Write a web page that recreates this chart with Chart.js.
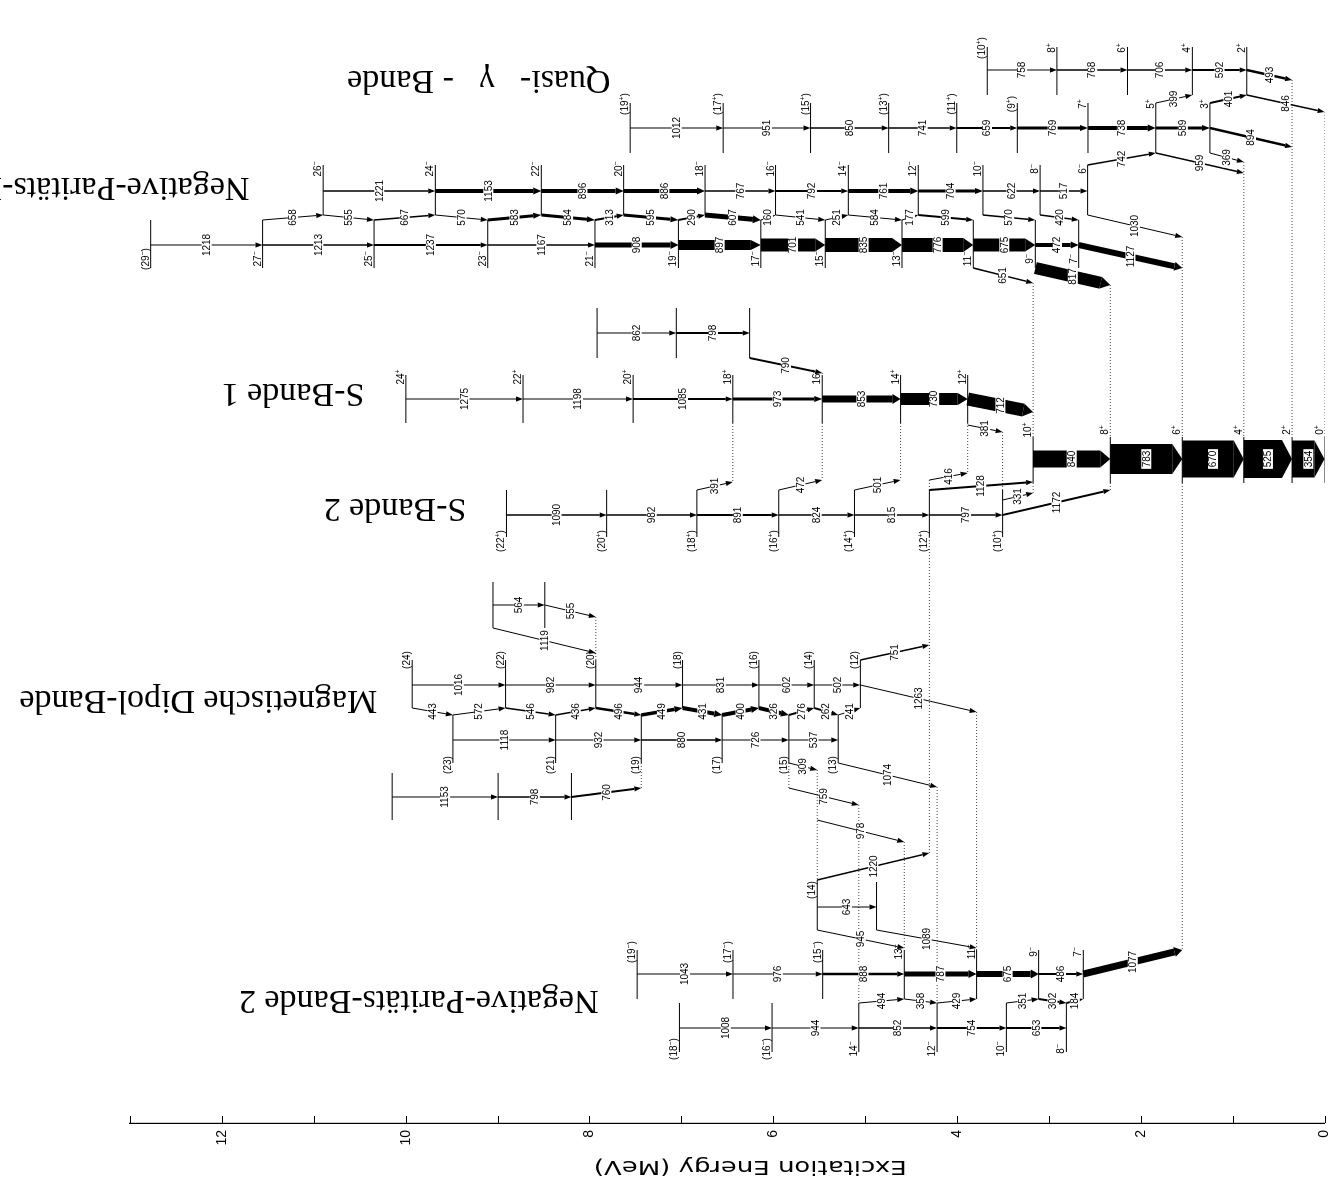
<!DOCTYPE html>
<html>
<head>
<meta charset="utf-8">
<title>Niveauschema</title>
<script src="https://cdn.jsdelivr.net/npm/chart.js@4.4.1/dist/chart.umd.min.js"></script>
<style>
  html, body { margin: 0; padding: 0; background: #fff; overflow: hidden; }
  #wrap { position: relative; width: 1340px; height: 1191px; overflow: hidden; background: #fff; }
  /* das Schema wird stehend gezeichnet und dann um 90 Grad gedreht */
  #scheme { position: absolute; left: 0; top: 0; transform-origin: 0 0; transform: translate(0px, 1191px) rotate(-90deg); }
</style>
</head>
<body>
<div id="wrap"><canvas id="scheme" width="1191" height="1340"></canvas></div>
<script>
// ---------- Daten: Spins (von unten nach oben), Intraband-Gammas in keV, Intensitaeten ----------
// Grundzustandsband
const gsSpins = ['0+', '2+', '4+', '6+', '8+', '10+'];
const gsGammas = [354, 525, 670, 783, 840];
const gsInt = [37, 38, 37, 30, 17];

// S-Bande 1
const s1Spins = ['12+', '14+', '16+', '18+', '20+', '22+', '24+'];
const s1Gammas = [730, 853, 973, 1085, 1198, 1275];
const s1Int = [12, 7, 3, 2, 1, 1];

// Seitenband ueber S-Bande 1
const sbSpins = ['_a', '_b', '_c'];
const sbGammas = [798, 862];
const sbInt = [2, 1];

// S-Bande 2
const s2Spins = ['(10+)', '(12+)', '(14+)', '(16+)', '(18+)', '(20+)', '(22+)'];
const s2Gammas = [797, 815, 824, 891, 982, 1090];
const s2Int = [1.5, 1.5, 1.5, 2, 1.5, 1.5];

// Quasi-gamma-Bande
const geSpins = ['2+', '4+', '6+', '8+', '(10+)'];
const geGammas = [592, 706, 768, 758];
const geInt = [2, 1.5, 1.5, 1];
const goSpins = ['3+', '5+', '7+', '(9+)', '(11+)', '(13+)', '(15+)', '(17+)', '(19+)'];
const goGammas = [589, 738, 769, 659, 741, 850, 951, 1012];
const goInt = [3, 4, 3, 2, 1.5, 1.5, 1, 1];

// Negative-Paritaets-Bande 1
const neSpins = ['6-', '8-', '10-', '12-', '14-', '16-', '18-', '20-', '22-', '24-', '26-'];
const neGammas = [517, 622, 704, 761, 792, 767, 886, 896, 1153, 1221];
const neInt = [1.5, 1.5, 3, 4, 2, 1.5, 4, 4, 4, 1.5];
const noSpins = ['7-', '9-', '11-', '13-', '15-', '17-', '19-', '21-', '23-', '25-', '27-', '(29-)'];
const noGammas = [472, 675, 776, 835, 701, 897, 908, 1167, 1237, 1213, 1218];
const noInt = [4, 13, 14, 14, 13, 10, 5, 1.5, 2, 1.5, 1];

// Negative-Paritaets-Bande 2
const n2oSpins = ['7-', '9-', '11-', '13-', '(15-)', '(17-)', '(19-)'];
const n2oGammas = [486, 675, 787, 888, 976, 1043];
const n2oInt = [2, 6, 5, 2.5, 1, 1];
const n2eSpins = ['8-', '10-', '12-', '14-', '(16-)', '(18-)'];
const n2eGammas = [653, 754, 852, 944, 1008];
const n2eInt = [2, 2, 1.5, 1, 1];

// Magnetische Dipol-Bande
const dpeSpins = ['(12)', '(14)', '(16)', '(18)', '(20)', '(22)', '(24)'];
const dpeGammas = [502, 602, 831, 944, 982, 1016];
const dpeInt = [1, 1, 1, 1, 1, 1];
const dpoSpins = ['(13)', '(15)', '(17)', '(19)', '(21)', '(23)'];
const dpoGammas = [537, 726, 880, 932, 1118];
const dpoInt = [1, 1, 1.5, 1, 1];
const dmSpins = ['_a', '_b'];
const dmGammas = [564];
const dmInt = [1];
const dnSpins = ['_a', '_b', '_c'];
const dnGammas = [798, 1153];
const dnInt = [1.5, 1];

// Einzelniveaus
const x14Spins = ['(14)'];
const xlSpins = ['_a'];

// Interband- und Signatur-Uebergaenge: [von, nach, E_gamma keV, Intensitaet]
const links = [
  ['s1:12+', 'gs:10+', 712, 13],
  ['sb:_a', 's1:16+', 790, 2],
  ['s2:(10+)', 'gs:8+', 1172, 2],
  ['s2:(10+)', 'gs:10+', 331, 1],
  ['s1:12+', 's2:(10+)', 381, 1],
  ['s2:(12+)', 's1:12+', 416, 1],
  ['s2:(12+)', 'gs:10+', 1128, 2],
  ['s2:(14+)', 's1:14+', 501, 1],
  ['s2:(16+)', 's1:16+', 472, 1],
  ['s2:(18+)', 's1:18+', 391, 1],
  ['ge:2+', 'gs:2+', 493, 2.5],
  ['ge:2+', 'gs:0+', 846, 1.5],
  ['go:3+', 'ge:2+', 401, 2],
  ['go:3+', 'gs:2+', 894, 2.5],
  ['go:3+', 'gs:4+', 369, 1],
  ['go:5+', 'ge:4+', 399, 1],
  ['go:5+', 'gs:4+', 959, 1.5],
  ['ne:6-', 'go:5+', 742, 1.5],
  ['ne:6-', 'gs:6+', 1030, 1],
  ['no:7-', 'gs:6+', 1127, 6],
  ['no:9-', 'gs:8+', 817, 12],
  ['no:11-', 'gs:10+', 651, 1.5],
  ['no:27-', 'ne:26-', 658, 1],
  ['ne:26-', 'no:25-', 555, 1],
  ['no:25-', 'ne:24-', 667, 1.5],
  ['ne:24-', 'no:23-', 570, 1],
  ['no:23-', 'ne:22-', 583, 3],
  ['ne:22-', 'no:21-', 584, 3],
  ['no:21-', 'ne:20-', 313, 2],
  ['ne:20-', 'no:19-', 595, 3],
  ['no:19-', 'ne:18-', 290, 2],
  ['ne:18-', 'no:17-', 607, 5],
  ['no:17-', 'ne:16-', 160, 1],
  ['ne:16-', 'no:15-', 541, 1],
  ['no:15-', 'ne:14-', 251, 1],
  ['ne:14-', 'no:13-', 584, 1],
  ['no:13-', 'ne:12-', 177, 1],
  ['ne:12-', 'no:11-', 599, 2],
  ['ne:10-', 'no:9-', 570, 1.5],
  ['ne:8-', 'no:7-', 420, 1.5],
  ['n2o:7-', 'gs:6+', 1077, 7],
  ['n2e:8-', 'n2o:7-', 184, 2],
  ['n2o:9-', 'n2e:8-', 302, 2],
  ['n2e:10-', 'n2o:9-', 351, 1],
  ['n2e:12-', 'n2o:11-', 429, 1],
  ['n2o:13-', 'n2e:12-', 358, 1],
  ['n2e:14-', 'n2o:13-', 494, 1],
  ['dpe:(12)', 's2:(12+)', 751, 1.5],
  ['dpe:(12)', 'n2o:11-', 1263, 1],
  ['dpo:(13)', 'dpe:(12)', 241, 1],
  ['dpo:(13)', 'n2e:12-', 1074, 1],
  ['dpe:(14)', 'dpo:(13)', 262, 2],
  ['dpo:(15)', 'dpe:(14)', 276, 2],
  ['dpe:(16)', 'dpo:(15)', 326, 4],
  ['dpo:(17)', 'dpe:(16)', 400, 4],
  ['dpe:(18)', 'dpo:(17)', 431, 4],
  ['dpo:(19)', 'dpe:(18)', 449, 3.5],
  ['dpe:(20)', 'dpo:(19)', 496, 2.5],
  ['dpo:(21)', 'dpe:(20)', 436, 1.5],
  ['dpe:(22)', 'dpo:(21)', 546, 1.5],
  ['dpo:(23)', 'dpe:(22)', 572, 1],
  ['dpe:(24)', 'dpo:(23)', 443, 1],
  ['dpo:(15)', 'x14:(14)', 309, 1],
  ['dpo:(15)', 'n2e:14-', 759, 1],
  ['x14:(14)', 'n2o:13-', 978, 1],
  ['dm:_a', 'dpe:(20)', 555, 1],
  ['dm:_b', 'dpe:(20)', 1119, 1],
  ['dn:_a', 'dpo:(19)', 760, 2],
  ['x14:(14)', 's2:(12+)', 1220, 1.5],
  ['x14:(14)', 'xl:_a', 643, 1],
  ['x14:(14)', 'n2o:13-', 945, 1],
  ['xl:_a', 'n2o:11-', 1089, 1]
];

const energyTicks = [0, 2, 4, 6, 8, 10, 12];
const axisTitle = 'Excitation Energy (MeV)';
const titleTexts = ['Quasi-   γ   - Bande', 'Negative-Paritäts-Bande 1', 'S-Bande 1', 'S-Bande 2',
  'Magnetische Dipol-Bande', 'Negative-Paritäts-Bande 2'];

// ---------- Layout (Spuren quer zur Energieachse) ----------
const layout = {
  gs:  { line: [437, 483], cascade: 459, label: 430 },
  s1:  { line: [375, 423], cascade: 399, label: 377 },
  sb:  { line: [308, 358], cascade: 333 },
  s2:  { line: [490, 537], cascade: 515, label: 541 },
  ge:  { line: [47, 95], cascade: 70, label: 48 },
  go:  { line: [103, 153], cascade: 128, label: 104 },
  ne:  { line: [165, 215], cascade: 191, label: 169 },
  no:  { line: [220, 268], cascade: 245, label: 259 },
  n2o: { line: [950, 999], cascade: 974, label: 952 },
  n2e: { line: [1003, 1052], cascade: 1028, label: 1049 },
  dpe: { line: [660, 708], cascade: 685, label: 660 },
  dpo: { line: [715, 763], cascade: 740, label: 765 },
  dm:  { line: [582, 628], cascade: 605 },
  dn:  { line: [773, 820], cascade: 797 },
  x14: { line: [880, 930], label: 890 },
  xl:  { line: [882, 930] }
};

// Spuren fuer Pfeile, die nicht einfach zwischen benachbarten Linienenden laufen
const linkLanes = {
  's1:12+>gs:10+': [399, 412],
  'sb:_a>s1:16+': [358, 373],
  's2:(10+)>gs:8+': [515, 490],
  's2:(10+)>gs:10+': [500, 493],
  's1:12+>s2:(10+)': [425, 432],
  's2:(12+)>s1:12+': [480, 473],
  's2:(12+)>gs:10+': [490, 482],
  's2:(14+)>s1:14+': [490, 480],
  's2:(16+)>s1:16+': [490, 480],
  's2:(18+)>s1:18+': [490, 482],
  'ge:2+>gs:2+': [70, 80],
  'ge:2+>gs:0+': [95, 112],
  'go:3+>gs:2+': [128, 147],
  'go:3+>gs:4+': [153, 162],
  'go:5+>gs:4+': [153, 173],
  'ne:6->gs:6+': [215, 237],
  'no:7->gs:6+': [245, 268],
  'no:9->gs:8+': [268, 285],
  'no:11->gs:10+': [268, 283],
  'n2o:7->gs:6+': [974, 950],
  'dpe:(12)>s2:(12+)': [660, 645],
  'dpe:(12)>n2o:11-': [685, 712],
  'dpo:(13)>n2e:12-': [763, 787],
  'dpo:(15)>x14:(14)': [763, 770],
  'dpo:(15)>n2e:14-': [788, 805],
  'dm:_a>dpe:(20)': [605, 617],
  'dm:_b>dpe:(20)': [628, 653],
  'dn:_a>dpo:(19)': [797, 788],
  'x14:(14)>s2:(12+)': [880, 853],
  'x14:(14)>xl:_a': [907, 907],
  'xl:_a>n2o:11-': [930, 948]
};
// zwei Pfeile vom (14)-Niveau zum 13- Niveau, auf getrennten Spuren
const lanes945 = [930, 948];
const lanes978 = [820, 842];

// Titelanker: [Energie MeV am Textanfang, Spur]
const titleAnchors = [[7.77, 80], [11.70, 187], [10.45, 393], [9.34, 508], [10.31, 700], [7.90, 1000]];

// ---------- Aufbau ----------
const bands = [
  { key: 'gs', spins: gsSpins, gammas: gsGammas, int: gsInt, parent: null },
  { key: 's1', spins: s1Spins, gammas: s1Gammas, int: s1Int, parent: 'gs:10+' },
  { key: 'sb', spins: sbSpins, gammas: sbGammas, int: sbInt, parent: 's1:16+' },
  { key: 's2', spins: s2Spins, gammas: s2Gammas, int: s2Int, parent: 'gs:8+' },
  { key: 'ge', spins: geSpins, gammas: geGammas, int: geInt, parent: 'gs:2+' },
  { key: 'go', spins: goSpins, gammas: goGammas, int: goInt, parent: 'ge:2+' },
  { key: 'ne', spins: neSpins, gammas: neGammas, int: neInt, parent: 'go:5+' },
  { key: 'no', spins: noSpins, gammas: noGammas, int: noInt, parent: 'gs:6+' },
  { key: 'n2o', spins: n2oSpins, gammas: n2oGammas, int: n2oInt, parent: 'gs:6+' },
  { key: 'n2e', spins: n2eSpins, gammas: n2eGammas, int: n2eInt, parent: 'n2o:7-' },
  { key: 'dpe', spins: dpeSpins, gammas: dpeGammas, int: dpeInt, parent: 's2:(12+)' },
  { key: 'dpo', spins: dpoSpins, gammas: dpoGammas, int: dpoInt, parent: 'dpe:(12)' },
  { key: 'dm', spins: dmSpins, gammas: dmGammas, int: dmInt, parent: 'dpe:(20)' },
  { key: 'dn', spins: dnSpins, gammas: dnGammas, int: dnInt, parent: 'dpo:(19)' },
  { key: 'x14', spins: x14Spins, gammas: [], int: [], parent: 's2:(12+)' },
  { key: 'xl', spins: xlSpins, gammas: [], int: [], parent: 'n2o:11-' }
];

// Niveauenergien aus den Gammaenergien aufsummieren
const E = {};
const levelIds = [];
bands.forEach(b => {
  let e = 0;
  if (b.parent) {
    const first = b.key + ':' + b.spins[0];
    const l = links.find(t => t[0] === first && t[1] === b.parent);
    e = E[b.parent] + l[2];
  }
  b.spins.forEach((s, i) => {
    if (i > 0) e += b.gammas[i - 1];
    E[b.key + ':' + s] = e;
    levelIds.push(b.key + ':' + s);
  });
});

const bandOf = id => id.split(':')[0];
const spinOf = id => id.slice(id.indexOf(':') + 1);

function autoLanes(from, to) {
  const A = layout[bandOf(from)].line, B = layout[bandOf(to)].line;
  return (B[0] + B[1]) < (A[0] + A[1]) ? [A[0], B[1]] : [A[1], B[0]];
}

const arrows = [];
bands.forEach(b => {
  const lay = layout[b.key];
  b.gammas.forEach((g, i) => {
    arrows.push({ from: b.key + ':' + b.spins[i + 1], to: b.key + ':' + b.spins[i],
      gamma: g, w: b.int[i], l1: lay.cascade, l2: lay.cascade });
  });
});
links.forEach(([from, to, g, w]) => {
  let lanes = linkLanes[from + '>' + to];
  if (from === 'x14:(14)' && to === 'n2o:13-') lanes = g === 978 ? lanes978 : lanes945;
  if (!lanes) lanes = autoLanes(from, to);
  arrows.push({ from, to, gamma: g, w, l1: lanes[0], l2: lanes[1] });
});

// gepunktete Verlaengerungen, wo ein Pfeil ausserhalb der Niveaulinie ansetzt
const reach = {};
function extend(id, lane) {
  const r = reach[id] || (reach[id] = [lane, lane]);
  r[0] = Math.min(r[0], lane);
  r[1] = Math.max(r[1], lane);
}
arrows.forEach(a => { extend(a.from, a.l1); extend(a.to, a.l2); });

const gap = { x: NaN, y: NaN };
const levelPts = [];
const dottedPts = [];
levelIds.forEach(id => {
  const line = layout[bandOf(id)].line;
  const y = E[id] / 1000;
  levelPts.push({ x: line[0], y }, { x: line[1], y }, gap);
  const r = reach[id];
  if (r && r[0] < line[0] - 1) dottedPts.push({ x: r[0], y }, { x: line[0], y }, gap);
  if (r && r[1] > line[1] + 1) dottedPts.push({ x: line[1], y }, { x: r[1], y }, gap);
});

// ---------- Zeichenhilfen ----------
const LABEL_FONT = '10px "Liberation Sans", Arial, sans-serif';
const SUP_FONT = '7px "Liberation Sans", Arial, sans-serif';

function drawArrow(ctx, x1, y1, x2, y2, w) {
  const dx = x2 - x1, dy = y2 - y1;
  const len = Math.hypot(dx, dy);
  const ux = dx / len, uy = dy / len;
  const nx = -uy, ny = ux;
  const fat = w >= 9;
  const hl = Math.min(fat ? 10 : (w >= 3 ? 8 : 7), len * 0.6);
  const hw = fat ? w / 2 : Math.max(w / 2 + 1.5, 2.6);
  const bx = x2 - ux * hl, by = y2 - uy * hl;
  ctx.fillStyle = '#000';
  ctx.strokeStyle = '#000';
  if (w < 1.8) {
    ctx.lineWidth = w;
    ctx.beginPath();
    ctx.moveTo(x1, y1);
    ctx.lineTo(bx, by);
    ctx.stroke();
  } else {
    const h = w / 2;
    ctx.beginPath();
    ctx.moveTo(x1 + nx * h, y1 + ny * h);
    ctx.lineTo(bx + nx * h, by + ny * h);
    ctx.lineTo(bx - nx * h, by - ny * h);
    ctx.lineTo(x1 - nx * h, y1 - ny * h);
    ctx.closePath();
    ctx.fill();
  }
  ctx.beginPath();
  ctx.moveTo(x2, y2);
  ctx.lineTo(bx + nx * hw, by + ny * hw);
  ctx.lineTo(bx - nx * hw, by - ny * hw);
  ctx.closePath();
  ctx.fill();
}

function drawGammaLabel(ctx, text, x, y) {
  ctx.font = LABEL_FONT;
  const tw = ctx.measureText(text).width;
  ctx.fillStyle = '#fff';
  ctx.fillRect(x - tw / 2 - 1.5, y - 5, tw + 3, 10);
  ctx.fillStyle = '#000';
  ctx.textAlign = 'center';
  ctx.textBaseline = 'middle';
  ctx.fillText(text, x, y + 0.5);
}

function drawSpin(ctx, spin, cx, lineY) {
  const parts = [];
  for (const ch of spin) {
    const sup = ch === '+' || ch === '-';
    const t = ch === '-' ? '\u2212' : ch;
    const last = parts[parts.length - 1];
    if (last && last.sup === sup) last.t += t; else parts.push({ t, sup });
  }
  let total = 0;
  parts.forEach(p => {
    ctx.font = p.sup ? SUP_FONT : LABEL_FONT;
    p.w = ctx.measureText(p.t).width;
    total += p.w;
  });
  let x = cx - total / 2;
  const base = lineY - 2;
  ctx.fillStyle = '#000';
  ctx.textAlign = 'left';
  ctx.textBaseline = 'alphabetic';
  parts.forEach(p => {
    ctx.font = p.sup ? SUP_FONT : LABEL_FONT;
    ctx.fillText(p.t, x, p.sup ? base - 4 : base);
    x += p.w;
  });
}

const schemePlugin = {
  id: 'scheme',
  afterDatasetsDraw(chart) {
    const ctx = chart.ctx;
    const xs = chart.scales.x, ys = chart.scales.y;
    const px = lane => xs.getPixelForValue(lane);
    const py = kev => ys.getPixelForValue(kev / 1000);
    const area = chart.chartArea;
    ctx.save();

    // nach innen zeigende Striche der Energieachse
    ctx.strokeStyle = '#000';
    ctx.lineWidth = 1;
    ys.ticks.forEach(t => {
      const y = Math.round(ys.getPixelForValue(t.value)) + 0.5;
      ctx.beginPath();
      ctx.moveTo(area.left, y);
      ctx.lineTo(area.left + 7, y);
      ctx.stroke();
    });

    arrows.forEach(a => drawArrow(ctx, px(a.l1), py(E[a.from]), px(a.l2), py(E[a.to]), a.w));
    arrows.forEach(a => {
      const x = (px(a.l1) + px(a.l2)) / 2;
      const y = (py(E[a.from]) + py(E[a.to])) / 2;
      drawGammaLabel(ctx, String(a.gamma), x, y);
    });

    levelIds.forEach(id => {
      const s = spinOf(id);
      const lay = layout[bandOf(id)];
      if (s.startsWith('_') || lay.label === undefined) return;
      drawSpin(ctx, s, px(lay.label), py(E[id]));
    });

    // Bandbezeichnungen
    ctx.fillStyle = '#000';
    ctx.font = '34px "Liberation Serif", "Times New Roman", serif';
    ctx.textAlign = 'left';
    ctx.textBaseline = 'middle';
    titleTexts.forEach((t, i) => {
      const [e, lane] = titleAnchors[i];
      ctx.save();
      ctx.translate(px(lane), ys.getPixelForValue(e));
      ctx.rotate(-Math.PI / 2);
      ctx.fillText(t, 0, 0);
      ctx.restore();
    });

    // Achsentitel
    ctx.save();
    ctx.translate(px(1166), ys.getPixelForValue(6.25));
    ctx.rotate(-Math.PI / 2);
    ctx.scale(1.3, 1);
    ctx.font = '20px "DejaVu Sans", sans-serif';
    ctx.textAlign = 'center';
    ctx.fillText(axisTitle, 0, 0);
    ctx.restore();

    ctx.restore();
  }
};

new Chart(document.getElementById('scheme'), {
  type: 'scatter',
  data: {
    datasets: [
      { label: 'Niveaus', data: levelPts, showLine: true, borderColor: '#000', borderWidth: 1,
        pointRadius: 0, spanGaps: false },
      { label: 'Verlaengerungen', data: dottedPts, showLine: true, borderColor: '#444', borderWidth: 1,
        borderDash: [1, 2], pointRadius: 0, spanGaps: false }
    ]
  },
  options: {
    responsive: false,
    animation: false,
    events: [],
    layout: { padding: { top: 130, bottom: 12, left: 0, right: 20 } },
    plugins: { legend: { display: false }, tooltip: { enabled: false } },
    scales: {
      x: { type: 'linear', reverse: true, min: 20, max: 1123, display: false },
      y: {
        type: 'linear', position: 'left', min: 0, max: 13,
        ticks: {
          stepSize: 1, padding: 7, color: '#000',
          font: { family: '"Liberation Sans", Arial, sans-serif', size: 14 },
          callback: v => (energyTicks.includes(v) ? String(v) : '')
        },
        grid: { display: false, drawTicks: false },
        border: { display: true, color: '#000', width: 1.2 },
        afterFit: s => { s.width = 68; }
      }
    }
  },
  plugins: [schemePlugin]
});
</script>
</body>
</html>
